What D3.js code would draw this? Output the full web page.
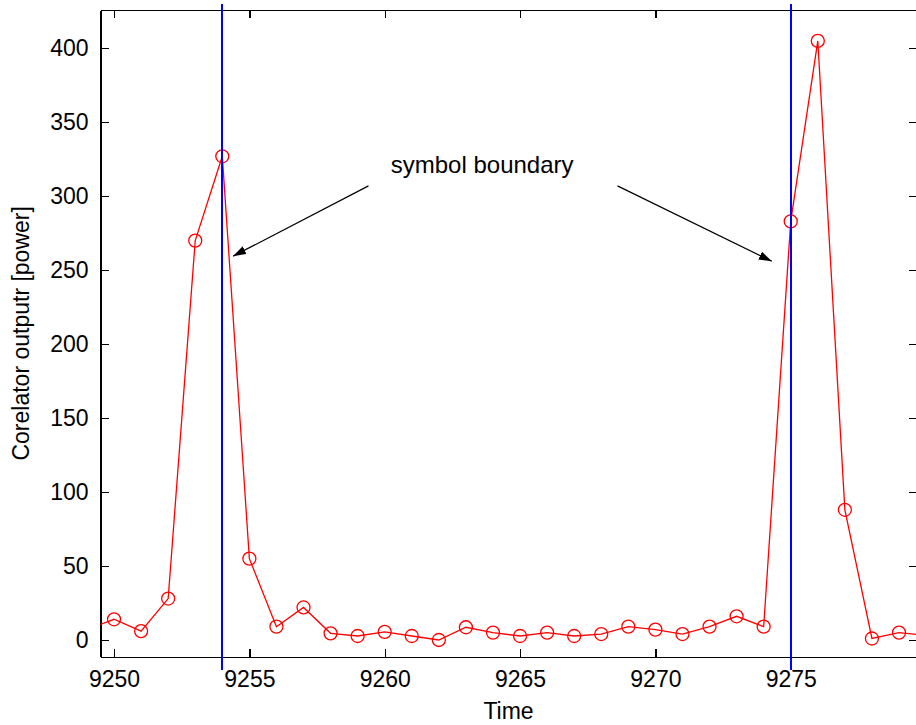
<!DOCTYPE html>
<html>
<head>
<meta charset="utf-8">
<script src="https://cdn.jsdelivr.net/npm/d3@7"></script>
<style>
  html, body { margin: 0; padding: 0; background: #fff; }
  svg { display: block; font-family: 'Liberation Sans', Arial, sans-serif; }
</style>
</head>
<body>
<svg id="chart" width="916" height="725"></svg>
<script>
// Samples of the correlator output, one per time step
const times = [9249, 9250, 9251, 9252, 9253, 9254, 9255, 9256, 9257, 9258, 9259,
  9260, 9261, 9262, 9263, 9264, 9265, 9266, 9267, 9268, 9269, 9270, 9271, 9272,
  9273, 9274, 9275, 9276, 9277, 9278, 9279, 9280];
const power = [7, 14, 6, 28, 270, 327, 55, 9, 22, 4.5, 2.7,
  5.5, 2.7, 0, 8.6, 5, 2.7, 5, 2.7, 4, 9, 7, 4, 9,
  16, 9, 283, 405, 88, 1, 5, 3];

const boundaries = [9254, 9275];
const xTicks = [9250, 9255, 9260, 9265, 9270, 9275];
const yTicks = [0, 50, 100, 150, 200, 250, 300, 350, 400];

const annotationText = 'symbol boundary';
const annotationAt = {time: 9263.6, power: 316};
const arrows = [
  {from: [9259.4, 307], to: [9254.4, 259.5]},
  {from: [9268.6, 307], to: [9274.3, 256]},
];

const svg = d3.select('#chart');
const width = 916, height = 725;

const x = d3.scaleLinear()
  .domain([9249.5, 9279.65])
  .range([100.5, 916.6]);
const y = d3.scaleLinear()
  .domain([-11.3, 425.9])
  .range([656.7, 10]);

const fontSize = 23;
const tickLen = 8;

svg.append('defs')
  .append('clipPath')
    .attr('id', 'plot-clip')
  .append('rect')
    .attr('x', x.range()[0])
    .attr('y', y.range()[1])
    .attr('width', x.range()[1] - x.range()[0])
    .attr('height', y.range()[0] - y.range()[1]);

svg.select('defs')
  .append('marker')
    .attr('id', 'arrowhead')
    .attr('viewBox', '0 0 12 8')
    .attr('refX', 12)
    .attr('refY', 4)
    .attr('markerWidth', 13)
    .attr('markerHeight', 9)
    .attr('markerUnits', 'userSpaceOnUse')
    .attr('orient', 'auto')
  .append('path')
    .attr('d', 'M0,0 L12,4 L0,8 Z')
    .attr('fill', '#000');

// Axes: MATLAB style box with inward ticks on all four sides
const fmt = d3.format('d');
const axisBottom = d3.axisBottom(x).tickValues(xTicks).tickFormat(fmt).tickSizeInner(-tickLen).tickSizeOuter(0).tickPadding(14);
const axisTop = d3.axisTop(x).tickValues(xTicks).tickSizeInner(-tickLen).tickSizeOuter(0).tickFormat('');
const axisLeft = d3.axisLeft(y).tickValues(yTicks).tickFormat(fmt).tickSizeInner(-tickLen).tickSizeOuter(0).tickPadding(12);
const axisRight = d3.axisRight(y).tickValues(yTicks).tickSizeInner(-tickLen).tickSizeOuter(0).tickFormat('');

function styleAxis(g) {
  g.attr('shape-rendering', 'crispEdges');
  g.select('.domain').attr('stroke', '#000').attr('stroke-width', 1.3);
  g.selectAll('.tick line').attr('stroke', '#000').attr('stroke-width', 1.3);
  g.selectAll('.tick text')
    .attr('fill', '#000')
    .attr('font-size', fontSize)
    .attr('font-family', null);
}

svg.append('g')
  .attr('transform', `translate(0,${y.range()[0]})`)
  .call(axisBottom)
  .call(styleAxis);
svg.append('g')
  .attr('transform', `translate(0,${y.range()[1]})`)
  .call(axisTop)
  .call(styleAxis);
svg.append('g')
  .attr('transform', `translate(${x.range()[0]},0)`)
  .call(axisLeft)
  .call(styleAxis);
svg.append('g')
  .attr('transform', `translate(${x.range()[1]},0)`)
  .call(axisRight)
  .call(styleAxis);

// Data line with circle markers, clipped to the plot box
const plot = svg.append('g').attr('clip-path', 'url(#plot-clip)');
const points = times.map((t, i) => ({time: t, power: power[i]}));

plot.append('path')
  .datum(points)
  .attr('fill', 'none')
  .attr('stroke', '#ff0000')
  .attr('stroke-width', 1.3)
  .attr('d', d3.line().x(d => x(d.time)).y(d => y(d.power)));

plot.selectAll('circle')
  .data(points)
  .enter()
  .append('circle')
    .attr('cx', d => x(d.time))
    .attr('cy', d => y(d.power))
    .attr('r', 6.5)
    .attr('fill', 'none')
    .attr('stroke', '#ff0000')
    .attr('stroke-width', 1.3);

// Symbol boundaries run a little past the box
svg.selectAll('.boundary')
  .data(boundaries)
  .enter()
  .append('line')
    .classed('boundary', true)
    .attr('x1', d => Math.round(x(d)))
    .attr('x2', d => Math.round(x(d)))
    .attr('y1', y(430))
    .attr('y2', y(-20))
    .attr('stroke', '#0000ff')
    .attr('stroke-width', 2)
    .attr('shape-rendering', 'crispEdges');

svg.selectAll('.arrow')
  .data(arrows)
  .enter()
  .append('line')
    .classed('arrow', true)
    .attr('x1', d => x(d.from[0]))
    .attr('y1', d => y(d.from[1]))
    .attr('x2', d => x(d.to[0]))
    .attr('y2', d => y(d.to[1]))
    .attr('stroke', '#000')
    .attr('stroke-width', 1.2)
    .attr('marker-end', 'url(#arrowhead)');

svg.append('text')
  .attr('x', x(annotationAt.time))
  .attr('y', y(annotationAt.power))
  .attr('text-anchor', 'middle')
  .attr('font-size', 24)
  .text(annotationText);

// Axis titles
svg.append('text')
  .attr('x', (x.range()[0] + x.range()[1]) / 2)
  .attr('y', 719)
  .attr('text-anchor', 'middle')
  .attr('font-size', fontSize)
  .text('Time');

svg.append('text')
  .attr('transform', `translate(29,${(y.range()[0] + y.range()[1]) / 2}) rotate(-90)`)
  .attr('text-anchor', 'middle')
  .attr('font-size', fontSize)
  .text('Corelator outputr [power]');
</script>
</body>
</html>
